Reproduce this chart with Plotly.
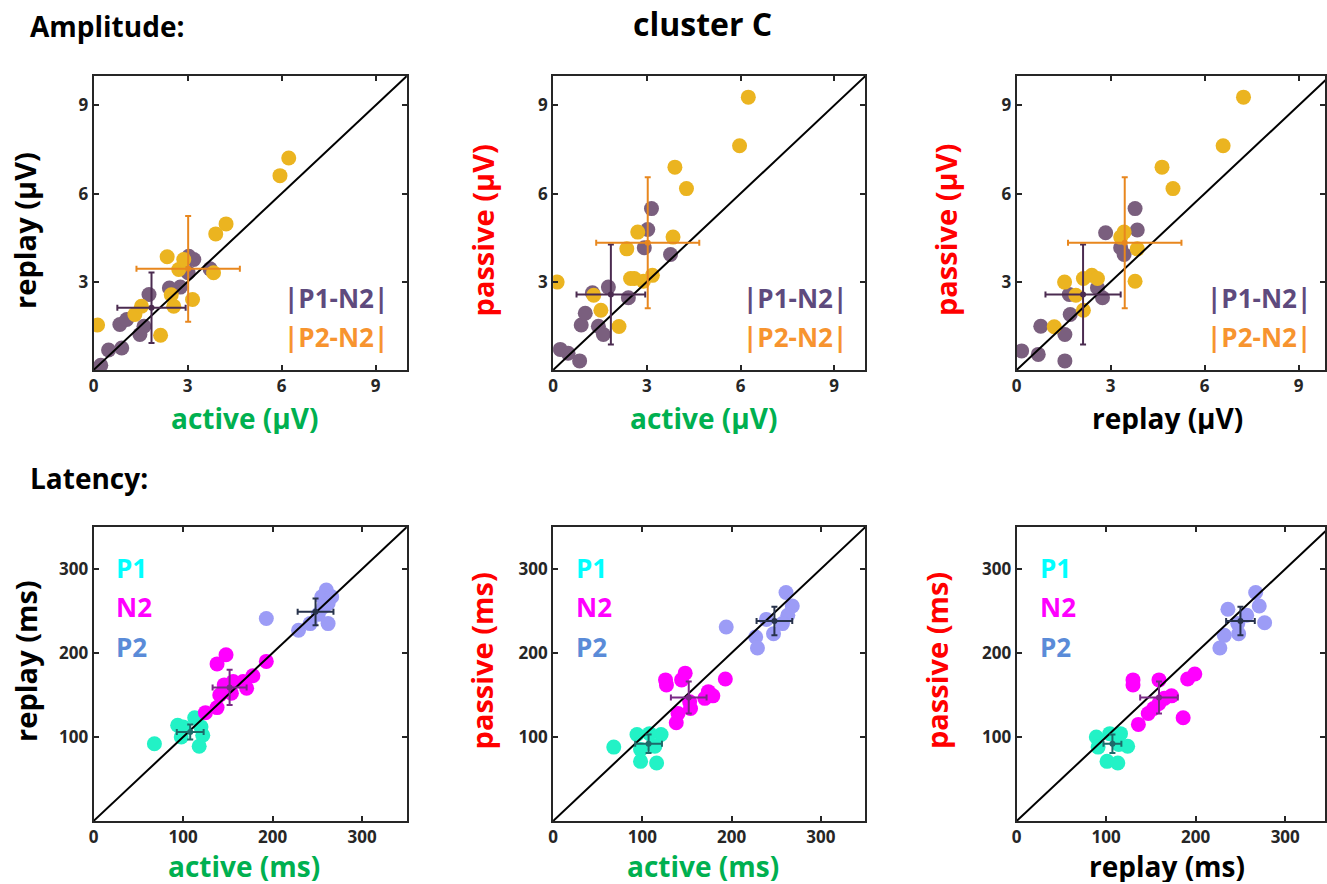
import plotly.graph_objects as go

W, H = 1327, 884
FONT = "Open Sans"

# ---------------- DATA ----------------
# Amplitude panel 1: active (x) vs replay (y)
A1_P1N2_x = [0.23, 0.48, 0.90, 0.84, 1.06, 1.48, 1.61, 1.77, 2.42, 2.77, 3.02, 3.20, 3.72, 3.04]
A1_P1N2_y = [0.16, 0.68, 0.75, 1.55, 1.72, 1.21, 1.49, 2.57, 2.79, 2.82, 3.31, 3.76, 3.44, 3.87]
A1_P2N2_x = [0.13, 2.14, 1.32, 1.53, 2.35, 2.48, 2.56, 2.72, 2.88, 3.16, 3.83, 3.90, 4.23, 5.95, 6.23]
A1_P2N2_y = [1.53, 1.18, 1.89, 2.17, 3.85, 2.56, 2.17, 3.42, 3.76, 2.40, 3.31, 4.63, 4.97, 6.61, 7.21]
A1_mean = {"P1N2": (1.85, 2.12, 1.09, 1.20), "P2N2": (3.02, 3.44, 1.65, 1.80)}

# Amplitude panel 2: active (x) vs passive (y)
A2_P1N2_x = [0.23, 0.48, 0.85, 0.90, 1.03, 1.26, 1.45, 1.61, 1.77, 2.41, 2.92, 3.03, 3.15, 3.76]
A2_P1N2_y = [0.70, 0.57, 0.31, 1.53, 1.93, 2.63, 1.49, 1.21, 2.82, 2.46, 4.16, 4.78, 5.49, 3.93]
A2_P2N2_x = [0.13, 1.30, 1.53, 2.11, 2.36, 2.48, 2.60, 2.71, 2.89, 3.18, 3.84, 3.90, 4.27, 5.97, 6.25]
A2_P2N2_y = [2.99, 2.54, 2.03, 1.48, 4.12, 3.11, 3.11, 4.69, 3.02, 3.22, 4.52, 6.90, 6.17, 7.63, 9.28]
A2_mean = {"P1N2": (1.85, 2.57, 1.10, 1.70), "P2N2": (3.03, 4.33, 1.65, 2.23)}

# Amplitude panel 3: replay (x) vs passive (y)
A3_P1N2_x = [0.16, 0.69, 0.77, 1.54, 1.54, 1.71, 1.68, 2.58, 2.74, 2.84, 3.32, 3.43, 3.78, 3.85]
A3_P1N2_y = [0.65, 0.53, 1.49, 1.21, 0.31, 1.89, 2.57, 2.80, 2.46, 4.67, 4.16, 3.93, 5.49, 4.76]
A3_P2N2_x = [1.20, 1.53, 1.89, 2.13, 2.13, 2.40, 2.58, 3.32, 3.43, 3.78, 3.85, 4.64, 4.99, 6.59, 7.24]
A3_P2N2_y = [1.47, 2.99, 2.54, 2.03, 3.11, 3.22, 3.11, 4.52, 4.69, 3.02, 4.12, 6.90, 6.17, 7.63, 9.28]
A3_mean = {"P1N2": (2.12, 2.57, 1.20, 1.70), "P2N2": (3.45, 4.33, 1.81, 2.23)}

# Latency panel 1: active (x) vs replay (y)
L1_P1_x = [68, 94, 98, 113, 118, 122, 120, 100]
L1_P1_y = [92, 114, 100, 123, 89, 102, 112, 112]
L1_N2_x = [125, 138, 138, 148, 141, 146, 154, 156, 171, 178, 193, 167]
L1_N2_y = [129, 135, 187, 198, 150, 162, 152, 166, 158, 173, 190, 166]
L1_P2_x = [193, 229, 242, 251, 255, 260, 266, 262, 262, 257]
L1_P2_y = [241, 227, 235, 246, 267, 275, 267, 235, 259, 255]
L1_mean = {"P1": (108, 106, 15, 9), "N2": (152, 159, 19, 21), "P2": (248, 249, 20, 16)}

# Latency panel 2: active (x) vs passive (y)
L2_P1_x = [68, 94, 98, 98, 116, 121, 114, 108]
L2_P1_y = [88, 103, 85, 71, 69, 103, 89, 104]
L2_N2_x = [126, 127, 138, 140, 144, 148, 154, 153, 170, 174, 179, 193]
L2_N2_y = [168, 162, 117, 128, 168, 176, 134, 142, 146, 154, 149, 169]
L2_P2_x = [194, 227, 229, 239, 247, 261, 268, 263, 257]
L2_P2_y = [231, 219, 206, 240, 223, 272, 256, 245, 235]
L2_mean = {"P1": (107, 92, 15, 11), "N2": (152, 147, 20, 19), "P2": (248, 238, 20, 17)}

# Latency panel 3: replay (x) vs passive (y)
L3_P1_x = [89, 91, 101, 113, 104, 116, 124, 114]
L3_P1_y = [100, 88, 71, 69, 104, 104, 89, 91]
L3_N2_x = [130, 130, 136, 147, 159, 159, 165, 173, 186, 191, 199, 153]
L3_N2_y = [168, 162, 115, 128, 168, 140, 146, 149, 123, 169, 175, 134]
L3_P2_x = [227, 236, 232, 248, 247, 267, 271, 277, 257]
L3_P2_y = [206, 252, 221, 223, 235, 272, 256, 236, 245]
L3_mean = {"P1": (107, 92, 10, 11), "N2": (159, 147, 21, 19), "P2": (250, 238, 16, 17)}

amp_ticks_x = [0, 3, 6, 9]
amp_ticks_y = [3, 6, 9]
lat_ticks_x = [0, 100, 200, 300]
lat_ticks_y = [100, 200, 300]

# ---------------- STYLE ----------------
DOT = {"P1N2": "#7A5F7E", "P2N2": "#EBB420", "P1": "#22F2C6", "N2": "#FF00FF", "P2": "#9C9CF6"}
BAR = {"P1N2": "#4B2B50", "P2N2": "#E8871E", "P1": "#1D6B6A", "N2": "#7A2A85", "P2": "#27324A"}
GREEN, RED, BLACK = "#00B050", "#FF0000", "#000000"
AX = "#262626"

col_px = [(89, 404), (551, 865), (1017, 1332)]
row_px = [(76, 370), (527, 821)]
ranges = {"amp": 10, "lat": 350}


def fx(px):
    return px / W


def fy(py):
    return 1 - py / H


fig = go.Figure()
annotations = []

panels = [
    ("amp", 0, 0, [("P1N2", A1_P1N2_x, A1_P1N2_y), ("P2N2", A1_P2N2_x, A1_P2N2_y)], A1_mean, ("active (µV)", GREEN), ("replay (µV)", BLACK)),
    ("amp", 0, 1, [("P1N2", A2_P1N2_x, A2_P1N2_y), ("P2N2", A2_P2N2_x, A2_P2N2_y)], A2_mean, ("active (µV)", GREEN), ("passive (µV)", RED)),
    ("amp", 0, 2, [("P1N2", A3_P1N2_x, A3_P1N2_y), ("P2N2", A3_P2N2_x, A3_P2N2_y)], A3_mean, ("replay (µV)", BLACK), ("passive (µV)", RED)),
    ("lat", 1, 0, [("P1", L1_P1_x, L1_P1_y), ("N2", L1_N2_x, L1_N2_y), ("P2", L1_P2_x, L1_P2_y)], L1_mean, ("active (ms)", GREEN), ("replay (ms)", BLACK)),
    ("lat", 1, 1, [("P1", L2_P1_x, L2_P1_y), ("N2", L2_N2_x, L2_N2_y), ("P2", L2_P2_x, L2_P2_y)], L2_mean, ("active (ms)", GREEN), ("passive (ms)", RED)),
    ("lat", 1, 2, [("P1", L3_P1_x, L3_P1_y), ("N2", L3_N2_x, L3_N2_y), ("P2", L3_P2_x, L3_P2_y)], L3_mean, ("replay (ms)", BLACK), ("passive (ms)", RED)),
]

ytitle_x = [[20, 481, 946], [20, 479, 936]]
ytitle_y = [230, 661]
xtitle_y = [418, 866]

for i, (kind, r, c, groups, means, xt, yt) in enumerate(panels):
    n = i + 1
    xa = "x" if n == 1 else f"x{n}"
    ya = "y" if n == 1 else f"y{n}"
    left, right = col_px[c]
    top, bot = row_px[r]
    rmax = ranges[kind]
    vis_right = min(right, W)
    xmax = rmax * (vis_right - left) / (right - left)

    # dots
    for key, xs, ys in groups:
        fig.add_trace(go.Scatter(x=xs, y=ys, mode="markers", xaxis=xa, yaxis=ya,
                                 marker=dict(size=15, color=DOT[key], line=dict(width=0)),
                                 showlegend=False, hoverinfo="skip"))
    # identity line
    fig.add_trace(go.Scatter(x=[0, rmax], y=[0, rmax], mode="lines", xaxis=xa, yaxis=ya,
                             line=dict(color="black", width=2), showlegend=False, hoverinfo="skip"))
    # mean +/- sd
    for key, _, _ in groups:
        mx, my, sx, sy = means[key]
        fig.add_trace(go.Scatter(x=[mx], y=[my], mode="markers", xaxis=xa, yaxis=ya,
                                 marker=dict(size=6, color=BAR[key]),
                                 error_x=dict(type="data", array=[sx], color=BAR[key], thickness=2, width=3),
                                 error_y=dict(type="data", array=[sy], color=BAR[key], thickness=2, width=3),
                                 showlegend=False, hoverinfo="skip"))

    common = dict(showgrid=False, zeroline=False, showline=True, linewidth=2, linecolor=AX,
                  mirror="ticks", ticks="inside", ticklen=5, tickwidth=1.5, tickcolor=AX,
                  tickfont=dict(family=FONT, size=17, color=AX, weight="bold"), fixedrange=True)
    tx = amp_ticks_x if kind == "amp" else lat_ticks_x
    ty = amp_ticks_y if kind == "amp" else lat_ticks_y
    fig.update_layout(**{
        ("xaxis" if n == 1 else f"xaxis{n}"): dict(common, domain=[fx(left), fx(vis_right)], range=[0, xmax],
                                                   tickvals=tx, anchor=ya),
        ("yaxis" if n == 1 else f"yaxis{n}"): dict(common, domain=[fy(bot), fy(top)], range=[0, rmax],
                                                   tickvals=ty, anchor=xa),
    })

    # axis titles
    annotations.append(dict(text=xt[0], x=fx((left + right) / 2 - 6), y=fy(xtitle_y[r]), xref="paper", yref="paper",
                            showarrow=False, xanchor="center", yanchor="middle", height=32, valign="middle",
                            font=dict(family=FONT, size=28, color=xt[1], weight="bold")))
    annotations.append(dict(text=yt[0], x=fx(ytitle_x[r][c]), y=fy(ytitle_y[r]), xref="paper", yref="paper",
                            showarrow=False, xanchor="center", yanchor="middle", textangle=-90,
                            font=dict(family=FONT, size=29, color=yt[1], weight="bold")))

    # in-plot legends
    if kind == "amp":
        for lab, key, py in [("|P1-N2|", "P1N2", 298), ("|P2-N2|", "P2N2", 337)]:
            col = "#5E4A7D" if key == "P1N2" else "#F7942F"
            annotations.append(dict(text=lab, x=fx(right - 17), y=fy(py), xref="paper", yref="paper",
                                    showarrow=False, xanchor="right", yanchor="middle",
                                    font=dict(family=FONT, size=26, color=col, weight="bold")))
    else:
        for lab, col, py in [("P1", "#00FFFF", 568), ("N2", "#FF00FF", 607), ("P2", "#5A8BD8", 647)]:
            annotations.append(dict(text=lab, x=fx(left + 21), y=fy(py), xref="paper", yref="paper",
                                    showarrow=False, xanchor="left", yanchor="middle",
                                    font=dict(family=FONT, size=26, color=col, weight="bold")))

annotations.append(dict(text="cluster C", x=fx(701), y=1, xref="paper", yref="paper", showarrow=False,
                        xanchor="center", yanchor="top",
                        font=dict(family=FONT, size=32, color="black", weight="bold")))
annotations.append(dict(text="Amplitude:", x=fx(23), y=fy(26), xref="paper", yref="paper", showarrow=False,
                        xanchor="left", yanchor="middle",
                        font=dict(family=FONT, size=28, color="black", weight="bold")))
annotations.append(dict(text="Latency:", x=fx(23), y=fy(478), xref="paper", yref="paper", showarrow=False,
                        xanchor="left", yanchor="middle",
                        font=dict(family=FONT, size=28, color="black", weight="bold")))

fig.update_layout(width=W, height=H, margin=dict(l=0, r=0, t=0, b=0), autosize=False,
                  paper_bgcolor="white", plot_bgcolor="white", showlegend=False,
                  annotations=annotations, font=dict(family=FONT))

fig.write_html("out.html", config={"displayModeBar": False})
